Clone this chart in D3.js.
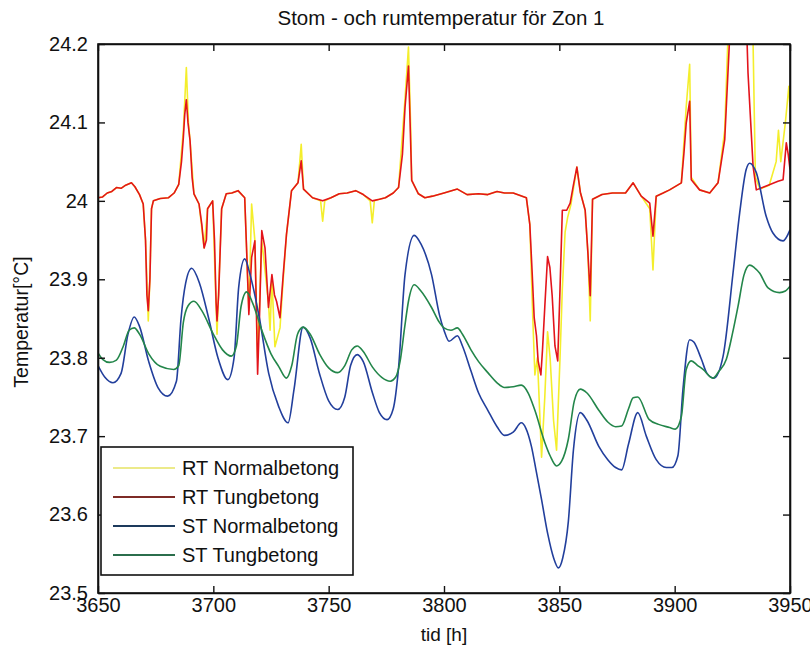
<!DOCTYPE html>
<html>
<head>
<meta charset="utf-8">
<script src="https://cdn.jsdelivr.net/npm/d3@7"></script>
<style>
  body { margin: 0; background: #fff; }
  text { font-family: "Liberation Sans", Arial, sans-serif; fill: #111; }
</style>
</head>
<body>
<svg id="chart" width="810" height="652"></svg>
<script>
// tick values and labels
const xTicks = [3650, 3700, 3750, 3800, 3850, 3900, 3950];
const yTicks = [23.5, 23.6, 23.7, 23.8, 23.9, 24.0, 24.1, 24.2];
const yTickLabels = ["23.5", "23.6", "23.7", "23.8", "23.9", "24", "24.1", "24.2"];

const seriesNames = ["RT Normalbetong", "RT Tungbetong", "ST Normalbetong", "ST Tungbetong"];

// [hour, temperature]
const rtNormal = [
  [3650, 24.004], [3652, 24.005], [3654, 24.01], [3656, 24.012], [3658, 24.017], [3660, 24.016],
  [3662, 24.02], [3664.5, 24.023], [3666, 24.018], [3668, 24.008], [3669.6, 23.996], [3670.6, 23.95],
  [3671.8, 23.847], [3672.5, 23.9], [3673.2, 23.99], [3674, 24.0], [3677, 24.003], [3680.6, 24.004],
  [3683, 24.01], [3685, 24.021], [3687, 24.09], [3688.3, 24.170], [3689.2, 24.1], [3689.9, 24.077],
  [3691.6, 24.009], [3693.8, 23.996], [3696, 23.94], [3697.5, 23.99], [3699.7, 24.0], [3701.6, 23.83],
  [3703.6, 23.99], [3705.6, 24.009], [3708, 24.01], [3710.7, 24.013], [3713.6, 24.004], [3715.4, 23.86],
  [3716.6, 23.996], [3718, 23.95], [3719.2, 23.80], [3721, 23.95], [3723.9, 23.87], [3724.6, 23.835],
  [3725.4, 23.90], [3726.7, 23.814], [3728.9, 23.838], [3730.3, 23.90], [3731.7, 23.957], [3733.9, 24.013],
  [3736.7, 24.023], [3738.1, 24.072], [3739.1, 24.015], [3743, 24.004], [3746.5, 24.0], [3747.4, 23.974],
  [3748.3, 24.0], [3751, 24.004], [3754.6, 24.009], [3758, 24.01], [3761.7, 24.013], [3765, 24.008],
  [3768, 24.0], [3768.9, 23.972], [3769.8, 24.0], [3772, 24.002], [3774.6, 24.004], [3778, 24.01],
  [3780.3, 24.017], [3783.1, 24.13], [3784.6, 24.196], [3785.5, 24.1], [3786, 24.026], [3788.9, 24.009],
  [3791.7, 24.004], [3795, 24.006], [3800, 24.010], [3805.8, 24.015], [3810, 24.008], [3815, 24.009],
  [3819, 24.008], [3823, 24.012], [3826.2, 24.01], [3830, 24.01], [3835.7, 24.004], [3837.2, 23.97],
  [3838.5, 23.85], [3839.4, 23.778], [3840.5, 23.80], [3842.3, 23.673], [3843.7, 23.75], [3844.9, 23.833],
  [3846, 23.80], [3847.5, 23.72], [3848.8, 23.682], [3850.3, 23.80], [3851.3, 23.888], [3852.5, 23.96],
  [3853.6, 23.979], [3855, 23.995], [3857.6, 24.043], [3859.1, 24.011], [3861.2, 23.988], [3862.4, 23.933],
  [3863.4, 23.847], [3864.4, 24.002], [3868.5, 24.008], [3873, 24.01], [3878.7, 24.01], [3882, 24.023],
  [3885.5, 24.006], [3889.2, 23.99], [3890.6, 23.912], [3892, 24.006], [3895, 24.01], [3897.8, 24.014],
  [3902.9, 24.023], [3905, 24.12], [3906.5, 24.174], [3907.2, 24.03], [3910.8, 24.014], [3915.2, 24.01],
  [3918.8, 24.023], [3921.7, 24.09], [3923, 24.2], [3926, 24.29], [3930, 24.3], [3933, 24.25],
  [3934, 24.2], [3935, 24.03], [3937, 24.015], [3941, 24.02], [3944, 24.05], [3945, 24.09],
  [3946, 24.05], [3948, 24.1], [3949.5, 24.146], [3950, 24.12]
];

const rtTung = [
  [3650, 24.004], [3652, 24.005], [3654, 24.01], [3656, 24.012], [3658, 24.017], [3660, 24.016],
  [3662, 24.02], [3664.5, 24.023], [3666, 24.018], [3668, 24.008], [3669.6, 23.996], [3670.6, 23.95],
  [3671.2, 23.88], [3671.8, 23.860], [3672.5, 23.9], [3673.2, 23.99], [3674, 24.0], [3677, 24.003],
  [3680.6, 24.004], [3683, 24.01], [3685, 24.021], [3686.2, 24.05], [3687, 24.081], [3687.6, 24.11],
  [3688.3, 24.129], [3689, 24.1], [3689.9, 24.077], [3690.8, 24.03], [3691.6, 24.009], [3693.8, 23.996],
  [3695, 23.97], [3696, 23.94], [3697, 23.95], [3697.5, 23.99], [3699.7, 24.0], [3700.5, 23.95],
  [3701.2, 23.87], [3701.6, 23.847], [3702.3, 23.88], [3703.6, 23.99], [3705.6, 24.009], [3708, 24.01],
  [3710.7, 24.013], [3713.6, 24.004], [3714.4, 23.94], [3715.4, 23.855], [3716.6, 23.928], [3718, 23.949],
  [3718.6, 23.87], [3719.2, 23.779], [3720, 23.85], [3721, 23.962], [3722.4, 23.94], [3723.9, 23.864],
  [3725.4, 23.906], [3726.5, 23.88], [3727.4, 23.872], [3728.9, 23.851], [3730.3, 23.906], [3731.7, 23.957],
  [3733.9, 24.013], [3736.7, 24.023], [3738.1, 24.051], [3739.1, 24.015], [3743, 24.004], [3747.4, 24.0],
  [3751, 24.004], [3754.6, 24.009], [3758, 24.01], [3761.7, 24.013], [3765, 24.008], [3768.9, 24.0],
  [3772, 24.002], [3774.6, 24.004], [3778, 24.01], [3780.3, 24.017], [3782, 24.06], [3783.1, 24.119],
  [3784.6, 24.172], [3785.3, 24.1], [3786, 24.026], [3788.9, 24.009], [3791.7, 24.004], [3795, 24.006],
  [3800, 24.010], [3805.8, 24.015], [3810, 24.008], [3815, 24.009], [3819, 24.008], [3823, 24.012],
  [3826.2, 24.01], [3830, 24.01], [3835.7, 24.004], [3837.2, 23.97], [3838.2, 23.910], [3839.1, 23.851],
  [3840.1, 23.828], [3840.8, 23.796], [3842, 23.778], [3842.7, 23.810], [3843.7, 23.865], [3844.9, 23.929],
  [3845.9, 23.915], [3846.9, 23.879], [3848.1, 23.815], [3849.3, 23.796], [3850.3, 23.888], [3851.3, 23.988],
  [3853.2, 23.988], [3854.7, 23.997], [3856.1, 24.02], [3857.6, 24.043], [3859.1, 24.011], [3861.2, 23.988],
  [3862.4, 23.933], [3863.4, 23.879], [3864.4, 24.002], [3868.5, 24.008], [3873, 24.01], [3878.7, 24.01],
  [3882, 24.023], [3885.5, 24.006], [3889.2, 23.997], [3890.6, 23.955], [3892, 24.006], [3895, 24.01],
  [3897.8, 24.014], [3902.9, 24.023], [3904, 24.06], [3905, 24.099], [3906.5, 24.127], [3907.2, 24.027],
  [3910.8, 24.014], [3915.2, 24.01], [3918.8, 24.023], [3921.7, 24.078], [3923.8, 24.206], [3926, 24.28],
  [3929, 24.3], [3931, 24.24], [3931.8, 24.163], [3934, 24.044], [3935.4, 24.014], [3939.7, 24.019],
  [3944.8, 24.025], [3947, 24.027], [3948.4, 24.074], [3949.2, 24.06], [3950, 24.04]
];

const stNormal = [
  [3650, 23.790], [3653, 23.775], [3656.5, 23.768], [3660, 23.78], [3663, 23.83], [3665.7, 23.852],
  [3668, 23.84], [3672, 23.795], [3676, 23.762], [3680.2, 23.751], [3684, 23.77], [3686, 23.85],
  [3688, 23.895], [3690.6, 23.914], [3694, 23.895], [3698, 23.85], [3702, 23.8], [3706.3, 23.772],
  [3709, 23.80], [3711, 23.89], [3713.6, 23.926], [3716, 23.905], [3720, 23.85], [3724, 23.78],
  [3728.3, 23.738], [3732.4, 23.717], [3735, 23.76], [3738.9, 23.839], [3742, 23.825], [3746, 23.78],
  [3750, 23.745], [3753.9, 23.734], [3757, 23.75], [3759.5, 23.79], [3762.4, 23.804], [3765, 23.795],
  [3769, 23.755], [3772, 23.73], [3775.3, 23.721], [3778, 23.735], [3780.3, 23.787], [3783.1, 23.906],
  [3787.1, 23.956], [3790, 23.945], [3794.6, 23.906], [3798, 23.855], [3800, 23.835], [3802.2, 23.821],
  [3805.8, 23.828], [3808, 23.815], [3811.7, 23.783], [3815, 23.755], [3819, 23.733], [3823, 23.712],
  [3826.2, 23.701], [3830, 23.705], [3833.5, 23.717], [3835.5, 23.71], [3837.9, 23.687], [3840, 23.655],
  [3842.3, 23.619], [3845, 23.575], [3847.5, 23.545], [3849.6, 23.532], [3851.5, 23.545], [3853.9, 23.591],
  [3856.1, 23.682], [3859.1, 23.730], [3862, 23.72], [3867.1, 23.687], [3871, 23.67], [3874.4, 23.660],
  [3877, 23.657], [3880, 23.69], [3884, 23.73], [3887.7, 23.7], [3892, 23.67], [3896.4, 23.66],
  [3898.8, 23.66], [3901.4, 23.675], [3903.6, 23.76], [3906.5, 23.823], [3908.3, 23.82], [3911.6, 23.798],
  [3914, 23.78], [3917, 23.774], [3921, 23.802], [3925.3, 23.908], [3928.2, 23.985], [3931, 24.04],
  [3932.5, 24.048], [3935.4, 24.036], [3939.7, 23.980], [3942.6, 23.959], [3947, 23.949], [3950, 23.963]
];

const stTung = [
  [3650, 23.806], [3652, 23.798], [3655, 23.794], [3658, 23.797], [3661, 23.815], [3663.5, 23.835],
  [3665.7, 23.838], [3668, 23.83], [3672, 23.805], [3677, 23.789], [3682.8, 23.785], [3685, 23.79],
  [3687, 23.845], [3689, 23.866], [3691.6, 23.872], [3695, 23.86], [3700, 23.83], [3704, 23.81],
  [3707.8, 23.802], [3710, 23.815], [3712, 23.865], [3714.4, 23.884], [3717, 23.87], [3721, 23.835],
  [3725, 23.805], [3728.3, 23.789], [3731.7, 23.774], [3734, 23.79], [3736.5, 23.83], [3738.9, 23.839],
  [3742, 23.83], [3746, 23.805], [3750, 23.787], [3753.9, 23.781], [3757, 23.79], [3760, 23.81],
  [3762.4, 23.815], [3765, 23.808], [3769, 23.788], [3773, 23.775], [3776.7, 23.770], [3779, 23.775],
  [3781, 23.796], [3783, 23.84], [3784.6, 23.872], [3787.1, 23.893], [3790, 23.885], [3794.6, 23.864],
  [3798, 23.845], [3800, 23.838], [3803, 23.835], [3805.8, 23.838], [3808, 23.83], [3811.7, 23.81],
  [3815, 23.795], [3819, 23.781], [3823, 23.768], [3826.2, 23.762], [3830, 23.763], [3833.5, 23.765],
  [3836.5, 23.755], [3839.4, 23.733], [3843.7, 23.692], [3846, 23.675], [3848.8, 23.662], [3851, 23.668],
  [3853.9, 23.696], [3856.5, 23.745], [3859.1, 23.760], [3862, 23.755], [3867.1, 23.733], [3871, 23.718],
  [3874.4, 23.712], [3877, 23.713], [3880, 23.735], [3882, 23.749], [3884, 23.75], [3889, 23.721],
  [3893, 23.715], [3897.8, 23.711], [3900.3, 23.709], [3902.9, 23.725], [3905, 23.785], [3907.2, 23.796],
  [3910, 23.79], [3912.3, 23.785], [3916.6, 23.774], [3919, 23.782], [3922.4, 23.798], [3925, 23.83],
  [3927.5, 23.866], [3930, 23.905], [3932.5, 23.918], [3934.5, 23.915], [3936.8, 23.908], [3940.5, 23.889],
  [3945.5, 23.883], [3948, 23.885], [3950, 23.891]
];

const seriesData = [rtNormal, rtTung, stNormal, stTung];
const lineColors = ["#f4ee2c", "#e3141b", "#223f9c", "#23864a"];
const legendColors = ["#ecea8a", "#7e2b26", "#1d3a5c", "#2b6e4c"];

let svg = d3.select("#chart");

let x = d3.scaleLinear().domain([3650, 3950]).range([98, 790]);
let y = d3.scaleLinear().domain([23.5, 24.2]).range([593, 44]);

// clip lines to the axes box (the red spike runs off the top)
svg.append("clipPath")
  .attr("id", "plotClip")
  .append("rect")
  .attr("x", 98).attr("y", 44)
  .attr("width", 692).attr("height", 549);

// room temps are spiky -> straight segments, structure temps are smooth
let spiky = d3.line()
  .x(d => x(d[0]))
  .y(d => y(d[1]));

let smooth = d3.line()
  .curve(d3.curveMonotoneX)
  .x(d => x(d[0]))
  .y(d => y(d[1]));

svg.append("g")
  .attr("clip-path", "url(#plotClip)")
  .selectAll("path")
  .data(seriesData)
  .enter()
  .append("path")
  .attr("fill", "none")
  .attr("stroke", (d, i) => lineColors[i])
  .attr("stroke-width", 1.6)
  .attr("stroke-linejoin", "round")
  .attr("d", (d, i) => i < 2 ? spiky(d) : smooth(d));

// axes, matlab style: ticks pointing inwards on all four sides
let fmtY = d => yTickLabels[yTicks.indexOf(d)];

svg.append("g")
  .attr("transform", "translate(0,593)")
  .call(d3.axisBottom(x).tickValues(xTicks).tickSize(-7).tickSizeOuter(0).tickPadding(5).tickFormat(d3.format("d")));

svg.append("g")
  .attr("transform", "translate(98,0)")
  .call(d3.axisLeft(y).tickValues(yTicks).tickSize(-7).tickSizeOuter(0).tickPadding(10).tickFormat(fmtY));

svg.append("g")
  .attr("transform", "translate(0,44)")
  .call(d3.axisTop(x).tickValues(xTicks).tickSize(-7).tickSizeOuter(0).tickFormat(""));

svg.append("g")
  .attr("transform", "translate(790,0)")
  .call(d3.axisRight(y).tickValues(yTicks).tickSize(-7).tickSizeOuter(0).tickFormat(""));

svg.selectAll(".tick line").attr("stroke", "#111").attr("stroke-width", 1.4);
svg.selectAll(".domain").attr("stroke", "#111").attr("stroke-width", 1.6);
svg.selectAll(".tick text").attr("font-size", 20).attr("fill", "#111");

svg.append("rect")
  .attr("x", 98).attr("y", 44)
  .attr("width", 692).attr("height", 549)
  .attr("fill", "none")
  .attr("stroke", "#111")
  .attr("stroke-width", 1.6);

// titles
svg.append("text")
  .attr("x", 441).attr("y", 25)
  .attr("text-anchor", "middle")
  .attr("font-size", 20.5)
  .text("Stom - och rumtemperatur för Zon 1");

svg.append("text")
  .attr("x", 444).attr("y", 641)
  .attr("text-anchor", "middle")
  .attr("font-size", 19)
  .text("tid [h]");

svg.append("text")
  .attr("transform", "translate(28,322) rotate(-90)")
  .attr("text-anchor", "middle")
  .attr("font-size", 19.5)
  .text("Temperatur[°C]");

// legend
let legend = svg.append("g");

legend.append("rect")
  .attr("x", 101).attr("y", 447)
  .attr("width", 252).attr("height", 128)
  .attr("fill", "#fff")
  .attr("stroke", "#111")
  .attr("stroke-width", 1.6);

let rowY = d3.scalePoint().domain(seriesNames).range([468, 555]);

let rows = legend.selectAll("g.row")
  .data(seriesNames)
  .enter()
  .append("g")
  .attr("class", "row")
  .attr("transform", d => "translate(0," + rowY(d) + ")");

rows.append("line")
  .attr("x1", 113).attr("x2", 175)
  .attr("stroke", (d, i) => legendColors[i])
  .attr("stroke-width", 1.8);

rows.append("text")
  .attr("x", 182)
  .attr("dy", "0.35em")
  .attr("font-size", 20)
  .text(d => d);
</script>
</body>
</html>
